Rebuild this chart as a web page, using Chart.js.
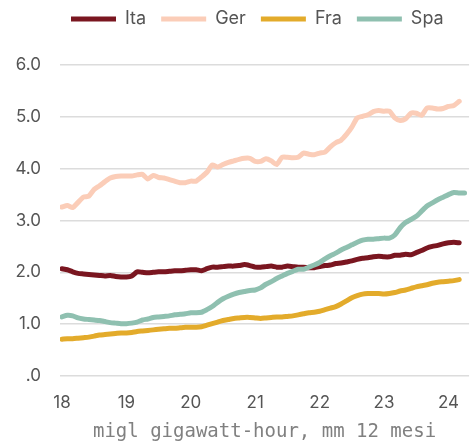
<!DOCTYPE html>
<html>
<head>
<meta charset="utf-8">
<script src="https://cdn.jsdelivr.net/npm/chart.js@4/dist/chart.umd.min.js"></script>
<style>
  html, body { margin: 0; padding: 0; background: #ffffff; }
  #wrap { width: 476px; height: 442px; }
</style>
</head>
<body>
<div id="wrap"><canvas id="c" width="476" height="442"></canvas></div>
<script>
// ---- data (monthly, Jan 2018 onward; 12-month moving average) ----
const seriesNames = ['Ita', 'Ger', 'Fra', 'Spa'];
const startYear = 2018;
const monthCount = 76;
const months = Array.from({ length: monthCount }, (_, i) => startYear + i / 12);

const ita = [2.07,2.05,2.01,1.98,1.97,1.96,1.95,1.94,1.93,1.94,1.92,1.91,
             1.91,1.93,2.01,2.00,1.99,2.00,2.01,2.01,2.02,2.03,2.03,2.04,
             2.05,2.05,2.03,2.07,2.10,2.10,2.11,2.12,2.12,2.13,2.15,2.13,
             2.10,2.10,2.11,2.12,2.10,2.10,2.12,2.11,2.10,2.10,2.09,2.09,
             2.11,2.13,2.14,2.17,2.18,2.20,2.22,2.25,2.27,2.28,2.30,2.31,
             2.30,2.30,2.33,2.33,2.35,2.34,2.38,2.42,2.47,2.50,2.52,2.55,
             2.57,2.58,2.57];
const ger = [3.26,3.29,3.25,3.35,3.45,3.47,3.60,3.67,3.75,3.82,3.85,3.86,
             3.86,3.86,3.88,3.89,3.80,3.87,3.83,3.82,3.79,3.76,3.73,3.73,
             3.76,3.76,3.84,3.93,4.07,4.03,4.08,4.12,4.15,4.18,4.20,4.20,
             4.14,4.14,4.19,4.15,4.08,4.22,4.22,4.21,4.22,4.30,4.28,4.27,
             4.30,4.32,4.42,4.50,4.55,4.66,4.80,4.98,5.01,5.04,5.10,5.12,
             5.11,5.11,4.98,4.93,4.96,5.07,5.07,5.03,5.17,5.17,5.15,5.16,
             5.20,5.22,5.30];
const fra = [0.71,0.72,0.72,0.73,0.74,0.75,0.77,0.79,0.80,0.81,0.82,0.83,
             0.83,0.84,0.86,0.87,0.88,0.89,0.90,0.91,0.92,0.92,0.93,0.94,
             0.94,0.94,0.95,0.98,1.01,1.04,1.07,1.09,1.11,1.12,1.13,1.13,
             1.12,1.11,1.12,1.13,1.14,1.14,1.15,1.16,1.18,1.20,1.22,1.23,
             1.25,1.28,1.31,1.34,1.39,1.45,1.51,1.55,1.58,1.59,1.59,1.59,
             1.58,1.59,1.61,1.64,1.66,1.69,1.72,1.74,1.76,1.79,1.81,1.82,
             1.83,1.84,1.86];
const spa = [1.14,1.17,1.16,1.12,1.10,1.09,1.08,1.07,1.05,1.03,1.02,1.01,
             1.01,1.02,1.04,1.08,1.10,1.13,1.14,1.15,1.16,1.18,1.19,1.20,
             1.22,1.22,1.23,1.28,1.34,1.42,1.49,1.54,1.58,1.61,1.63,1.65,
             1.66,1.70,1.77,1.82,1.88,1.93,1.98,2.02,2.06,2.06,2.10,2.14,
             2.19,2.26,2.32,2.37,2.43,2.48,2.53,2.58,2.62,2.64,2.64,2.65,
             2.66,2.66,2.72,2.86,2.96,3.02,3.08,3.18,3.28,3.34,3.40,3.45,
             3.50,3.54,3.53,3.53];

const xTickYears  = [2018, 2019, 2020, 2021, 2022, 2023, 2024];
const xTickLabels = ['18', '19', '20', '21', '22', '23', '24'];
const yTickValues = [0, 1, 2, 3, 4, 5, 6];
const yTickLabels = ['.0', '1.0', '2.0', '3.0', '4.0', '5.0', '6.0'];
const xTitle = 'migl gigawatt-hour, mm 12 mesi';

// ---- styling ----
const colors = { Ita: '#7a1620', Ger: '#fbcdb8', Fra: '#e3ab2b', Spa: '#8fc0b0' };
const drawOrder = { Ita: 1, Ger: 2, Fra: 2, Spa: 0 };
const values = { Ita: ita, Ger: ger, Fra: fra, Spa: spa };

const layoutTweak = {
  id: 'layoutTweak',
  beforeInit(chart) {
    const lg = chart.legend;
    const fit = lg.fit;
    lg.fit = function () { fit.call(this); this.height = 65; };
  },
  afterLayout(chart) {
    const lg = chart.legend;
    lg.top = -5;
    lg.left += 56;
    lg.right += 56;
  }
};

new Chart(document.getElementById('c'), {
  type: 'line',
  data: {
    labels: months,
    datasets: seriesNames.map(n => ({
      label: n,
      data: values[n],
      borderColor: colors[n],
      backgroundColor: colors[n],
      borderWidth: 5,
      borderCapStyle: 'round',
      borderJoinStyle: 'round',
      pointRadius: 0,
      tension: 0.2,
      fill: false,
      order: drawOrder[n]
    }))
  },
  options: {
    responsive: false,
    animation: false,
    devicePixelRatio: 1,
    layout: { padding: 0 },
    plugins: {
      tooltip: { enabled: false },
      legend: {
        position: 'top',
        align: 'start',
        labels: {
          usePointStyle: true,
          pointStyle: 'line',
          pointStyleWidth: 45,
          padding: 15,
          color: '#555555',
          font: { family: 'Inter', size: 18 },
          sort: (a, b) => a.datasetIndex - b.datasetIndex
        }
      }
    },
    scales: {
      x: {
        type: 'linear',
        min: 2017.9695,
        max: 2024.32,
        grid: { display: false, drawTicks: false },
        border: { display: false },
        afterBuildTicks: s => { s.ticks = xTickYears.map(v => ({ value: v })); },
        afterFit: s => { s.height = 66; },
        ticks: {
          padding: 17,
          color: '#555555',
          font: { family: 'Inter', size: 17 },
          maxRotation: 0,
          callback: v => xTickLabels[xTickYears.indexOf(v)]
        },
        title: {
          display: true,
          text: xTitle,
          color: '#808080',
          font: { family: 'DejaVu Sans Mono', size: 19, lineHeight: 1 },
          padding: { top: 0, bottom: 0 }
        }
      },
      y: {
        min: 0,
        max: 6,
        grid: { color: '#dcdcdc', lineWidth: 1.5, drawTicks: false },
        border: { display: false },
        afterBuildTicks: s => { s.ticks = yTickValues.map(v => ({ value: v })); },
        afterFit: s => { s.width = 60; },
        ticks: {
          padding: 19,
          color: '#555555',
          font: { family: 'Inter', size: 17 },
          callback: v => yTickLabels[yTickValues.indexOf(v)]
        }
      }
    }
  },
  plugins: [layoutTweak]
});
</script>
</body>
</html>
